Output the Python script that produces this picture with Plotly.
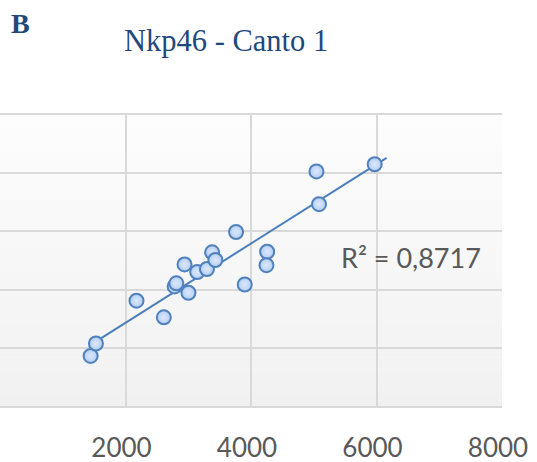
import numpy as np
import plotly.graph_objects as go

# ---- data ----
x_vals = [1444, 1529, 2175, 2611, 2783, 2810, 2941, 3003, 3143, 3298,
          3381, 3432, 3762, 3900, 4257, 4246, 5043, 5084, 5971]
y_vals = [43.0, 53.7, 90.5, 76.2, 102.7, 105.4, 121.6, 97.3, 115.1, 117.7,
          132.0, 125.4, 149.5, 104.4, 132.5, 121.0, 201.5, 173.4, 207.7]
x_ticks = [0, 2000, 4000, 6000, 8000]
y_ticks = [0, 50, 100, 150, 200, 250]
r2_label = "R² = 0,8717"
title_text = "Nkp46 - Canto 1"
panel_label = "B"
forecast_forward = 190

# linear trendline (least squares) like Excel
slope, intercept = np.polyfit(x_vals, y_vals, 1)
trend_x = np.array([min(x_vals), max(x_vals) + forecast_forward])
trend_y = slope * trend_x + intercept

fig = go.Figure()

# background gradient bands
n_bands = 24
for i in range(n_bands):
    t = i / (n_bands - 1)
    c = int(round(253 - t * 12))
    fig.add_shape(type="rect", xref="x domain", yref="y domain",
                  x0=0, x1=1, y0=1 - (i + 1) / n_bands, y1=1 - i / n_bands,
                  fillcolor=f"rgb({c},{c},{c})", line=dict(width=0), layer="below")

fig.add_trace(go.Scatter(x=trend_x, y=trend_y, mode="lines",
                         line=dict(color="#4a7ebb", width=2), hoverinfo="skip",
                         showlegend=False))
fig.add_trace(go.Scatter(x=x_vals, y=y_vals, mode="markers",
                         marker=dict(size=14, color="#b4cdf3",
                                     gradient=dict(type="radial", color="#dde9fb"),
                                     line=dict(color="#4f81bd", width=2)),
                         showlegend=False))

fig.update_layout(
    width=537, height=462,
    margin=dict(l=0, r=35, t=115, b=56, autoexpand=False),
    paper_bgcolor="white", plot_bgcolor="#f8f8f8",
    showlegend=False,
    xaxis=dict(range=[0, 8000], tickvals=x_ticks, showgrid=True,
               gridcolor="#d9d9d9", gridwidth=1.5, zeroline=False,
               showline=True, linecolor="#d9d9d9", linewidth=1.5, mirror=True,
               ticks="", ticklabelshift=-4, ticklabelstandoff=18,
               tickfont=dict(family="Lato", size=26, color="#595959")),
    yaxis=dict(range=[0, 250], tickvals=y_ticks, showgrid=True,
               gridcolor="#d9d9d9", gridwidth=1.5, zeroline=False,
               showline=False, showticklabels=False, ticks=""),
    annotations=[
        dict(text=title_text, xref="paper", yref="paper", x=225.5 / 502, y=1.19,
             xanchor="center", yanchor="bottom", showarrow=False,
             font=dict(family="Liberation Serif", size=30.5, color="#1f497d")),
        dict(text=f"<b>{panel_label}</b>", xref="paper", yref="paper", x=9 / 502, y=1.255,
             xanchor="left", yanchor="bottom", showarrow=False,
             font=dict(family="Liberation Serif", size=28, color="#1f497d")),
        dict(text=r2_label, xref="paper", yref="paper", x=339 / 502, y=(406 - 276) / 291,
             xanchor="left", yanchor="bottom", showarrow=False,
             font=dict(family="Lato", size=27, color="#595959")),
    ],
)

fig.write_html("out.html", config={"displayModeBar": False},
               post_script="document.body.style.margin='0';")
